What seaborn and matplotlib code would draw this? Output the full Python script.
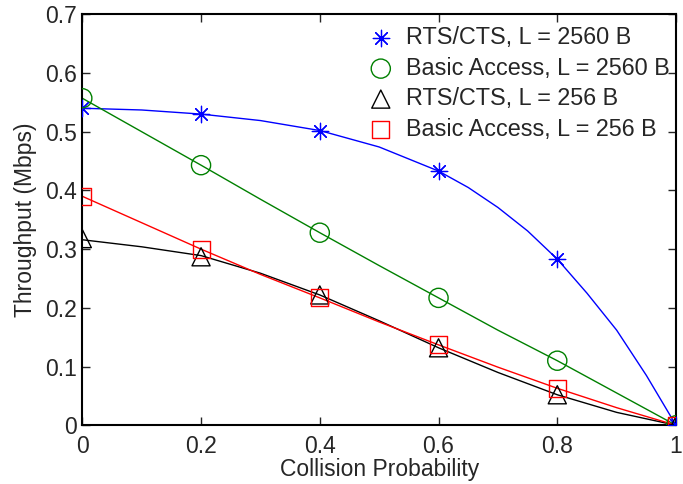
import numpy as np
import pandas as pd
import matplotlib
matplotlib.use("Agg")
import matplotlib.pyplot as plt
import seaborn as sns

# marker positions
p_mark = [0.0, 0.2, 0.4, 0.6, 0.8, 1.0]
rts_2560 = [0.540, 0.530, 0.502, 0.433, 0.283, 0.0]
basic_2560 = [0.557, 0.443, 0.328, 0.217, 0.110, 0.0]
rts_256 = [0.318, 0.287, 0.222, 0.132, 0.052, 0.0]
basic_256 = [0.390, 0.300, 0.217, 0.137, 0.063, 0.0]

# curve values read between markers
p_line = [0.0, 0.1, 0.2, 0.3, 0.4, 0.5, 0.6, 0.7, 0.8, 0.9, 1.0]
p_line_blue = [0.0, 0.1, 0.2, 0.3, 0.4, 0.5, 0.6, 0.65, 0.7, 0.75, 0.8, 0.85, 0.9, 0.95, 1.0]
rts_2560_line = [0.540, 0.537, 0.530, 0.519, 0.502, 0.474, 0.433, 0.405, 0.371, 0.331, 0.283, 0.225,
                 0.162, 0.085, 0.0]
basic_2560_line = [0.557, 0.500, 0.443, 0.385, 0.328, 0.272, 0.217, 0.162, 0.110, 0.055, 0.0]
rts_256_line = [0.316, 0.304, 0.289, 0.259, 0.222, 0.178, 0.132, 0.090, 0.052, 0.022, 0.0]
basic_256_line = [0.390, 0.345, 0.300, 0.257, 0.217, 0.176, 0.137, 0.099, 0.063, 0.030, 0.0]

labels = ["RTS/CTS, L = 2560 B", "Basic Access, L = 2560 B",
          "RTS/CTS, L = 256 B", "Basic Access, L = 256 B"]
colors = ["#0000ff", "#008000", "#000000", "#ff0000"]
markers = [(8, 2, 0), "o", "^", "s"]
sizes = [140, 190, 170, 150]

sns.set_theme(style="ticks")
plt.rcParams["font.family"] = ["Liberation Sans", "DejaVu Sans"]
plt.rcParams["xtick.direction"] = "in"
plt.rcParams["ytick.direction"] = "in"

fig = plt.figure(figsize=(6.83, 4.84), dpi=100)
ax = fig.add_axes([0.1205, 0.1213, 0.8693, 0.8492])

line_x = [p_line_blue, p_line, p_line, p_line]
line_sets = [rts_2560_line, basic_2560_line, rts_256_line, basic_256_line]
mark_sets = [rts_2560, basic_2560, rts_256, basic_256]

for xs, ys, c in zip(line_x, line_sets, colors):
    sns.lineplot(x=xs, y=ys, color=c, linewidth=1.0, ax=ax, legend=False)

for ys, c, m, s, lab in zip(mark_sets, colors, markers, sizes, labels):
    if m == "o" or m == "^" or m == "s":
        sns.scatterplot(x=p_mark, y=ys, marker=m, s=s, facecolor="none",
                        edgecolor=c, linewidth=1.0, ax=ax, label=lab, zorder=3)
    else:
        sns.scatterplot(x=p_mark, y=ys, marker=m, s=s, color=c,
                        linewidth=0.9, ax=ax, label=lab, zorder=3)

ax.set_xlim(0, 1)
ax.set_ylim(0, 0.7)
ax.set_xticks(p_mark)
ax.set_xticklabels(["0", "0.2", "0.4", "0.6", "0.8", "1"])
ax.set_yticks([0, 0.1, 0.2, 0.3, 0.4, 0.5, 0.6, 0.7])
ax.set_yticklabels(["0", "0.1", "0.2", "0.3", "0.4", "0.5", "0.6", "0.7"])
ax.tick_params(labelsize=16.5, length=6, width=1, top=True, right=True)
ax.tick_params(axis="x", pad=7)
ax.tick_params(axis="y", pad=4)
for sp in ax.spines.values():
    sp.set_visible(True)
    sp.set_linewidth(1.5)
    sp.set_color("black")

ax.set_xlabel("Collision Probability", fontsize=16.5, labelpad=0)
ax.set_ylabel("Throughput (Mbps)", fontsize=16.5, labelpad=6)

leg = ax.legend(loc="upper right", bbox_to_anchor=(1.0, 0.985), frameon=False,
                fontsize=16.8, handlelength=1.0, handletextpad=0.6,
                labelspacing=0.32, borderpad=0.15, borderaxespad=0.1)

fig.savefig("out.png", dpi=100)
